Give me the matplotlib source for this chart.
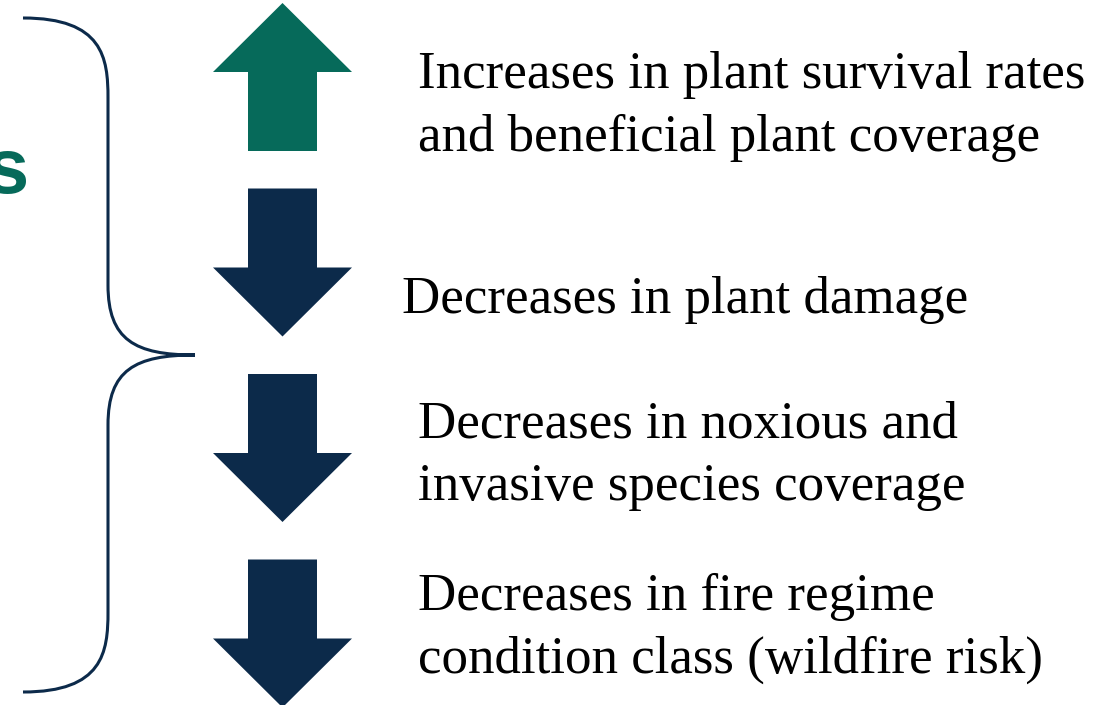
import matplotlib
matplotlib.use("Agg")
import matplotlib.pyplot as plt
from matplotlib.patches import Polygon
from matplotlib.path import Path
from matplotlib.patches import PathPatch

# ---- content ----
labels = [
    "Increases in plant survival rates\nand beneficial plant coverage",
    "Decreases in plant damage",
    "Decreases in noxious and\ninvasive species coverage",
    "Decreases in fire regime\ncondition class (wildfire risk)",
]
directions = ["up", "down", "down", "down"]
side_word = "s"

GREEN = "#066A5A"
NAVY = "#0C2A4A"

W, H = 1117, 705
fig = plt.figure(figsize=(W / 100, H / 100), dpi=100)
ax = fig.add_axes([0, 0, 1, 1])
ax.set_xlim(0, W)
ax.set_ylim(H, 0)
ax.axis("off")

# arrow layout (pixel space)
cx = 282.5
head_w, shaft_w = 139, 69
arrow_len, head_len = 148, 69
pitch = 185.5
y0 = 3
text_x = [418, 402, 418, 418]
first_baseline = [88, 313, 437, 610]
line_gap = 63

for i, (lab, d) in enumerate(zip(labels, directions)):
    top = y0 + i * pitch
    bot = top + arrow_len
    if d == "up":
        hb = top + head_len
        pts = [(cx, top), (cx + head_w / 2, hb), (cx + shaft_w / 2, hb),
               (cx + shaft_w / 2, bot), (cx - shaft_w / 2, bot),
               (cx - shaft_w / 2, hb), (cx - head_w / 2, hb)]
        col = GREEN
    else:
        hb = bot - head_len
        pts = [(cx, bot), (cx + head_w / 2, hb), (cx + shaft_w / 2, hb),
               (cx + shaft_w / 2, top), (cx - shaft_w / 2, top),
               (cx - shaft_w / 2, hb), (cx - head_w / 2, hb)]
        col = NAVY
    ax.add_patch(Polygon(pts, closed=True, facecolor=col, edgecolor="none"))
    for k, line in enumerate(lab.split("\n")):
        ax.text(text_x[i], first_baseline[i] + k * line_gap, line, ha="left",
                va="baseline", family="Liberation Serif", fontsize=38.2, color="black")

# curly brace
xe, xv, xp = 23, 108, 195
yt, ym, yb = 18, 355, 692
r = 60
verts = [
    (xe, yt), (xv - 5, yt), (xv, yt + 40), (xv, yt + r + 20),
    (xv, ym - r - 10),
    (xv, ym - 15), (xp - 60, ym), (xp, ym),
    (xp - 60, ym), (xv, ym + 15), (xv, ym + r + 10),
    (xv, yb - r - 20),
    (xv, yb - 40), (xv - 5, yb), (xe, yb),
]
codes = [Path.MOVETO, Path.CURVE4, Path.CURVE4, Path.CURVE4,
         Path.LINETO,
         Path.CURVE4, Path.CURVE4, Path.CURVE4,
         Path.CURVE4, Path.CURVE4, Path.CURVE4,
         Path.LINETO,
         Path.CURVE4, Path.CURVE4, Path.CURVE4]
ax.add_patch(PathPatch(Path(verts, codes), facecolor="none", edgecolor=NAVY, lw=2.2))

ax.text(29, 172, side_word, ha="right", va="center", family="Liberation Sans",
        fontweight="bold", fontsize=56, color=GREEN)

fig.savefig("out.png", dpi=100, facecolor="white")
